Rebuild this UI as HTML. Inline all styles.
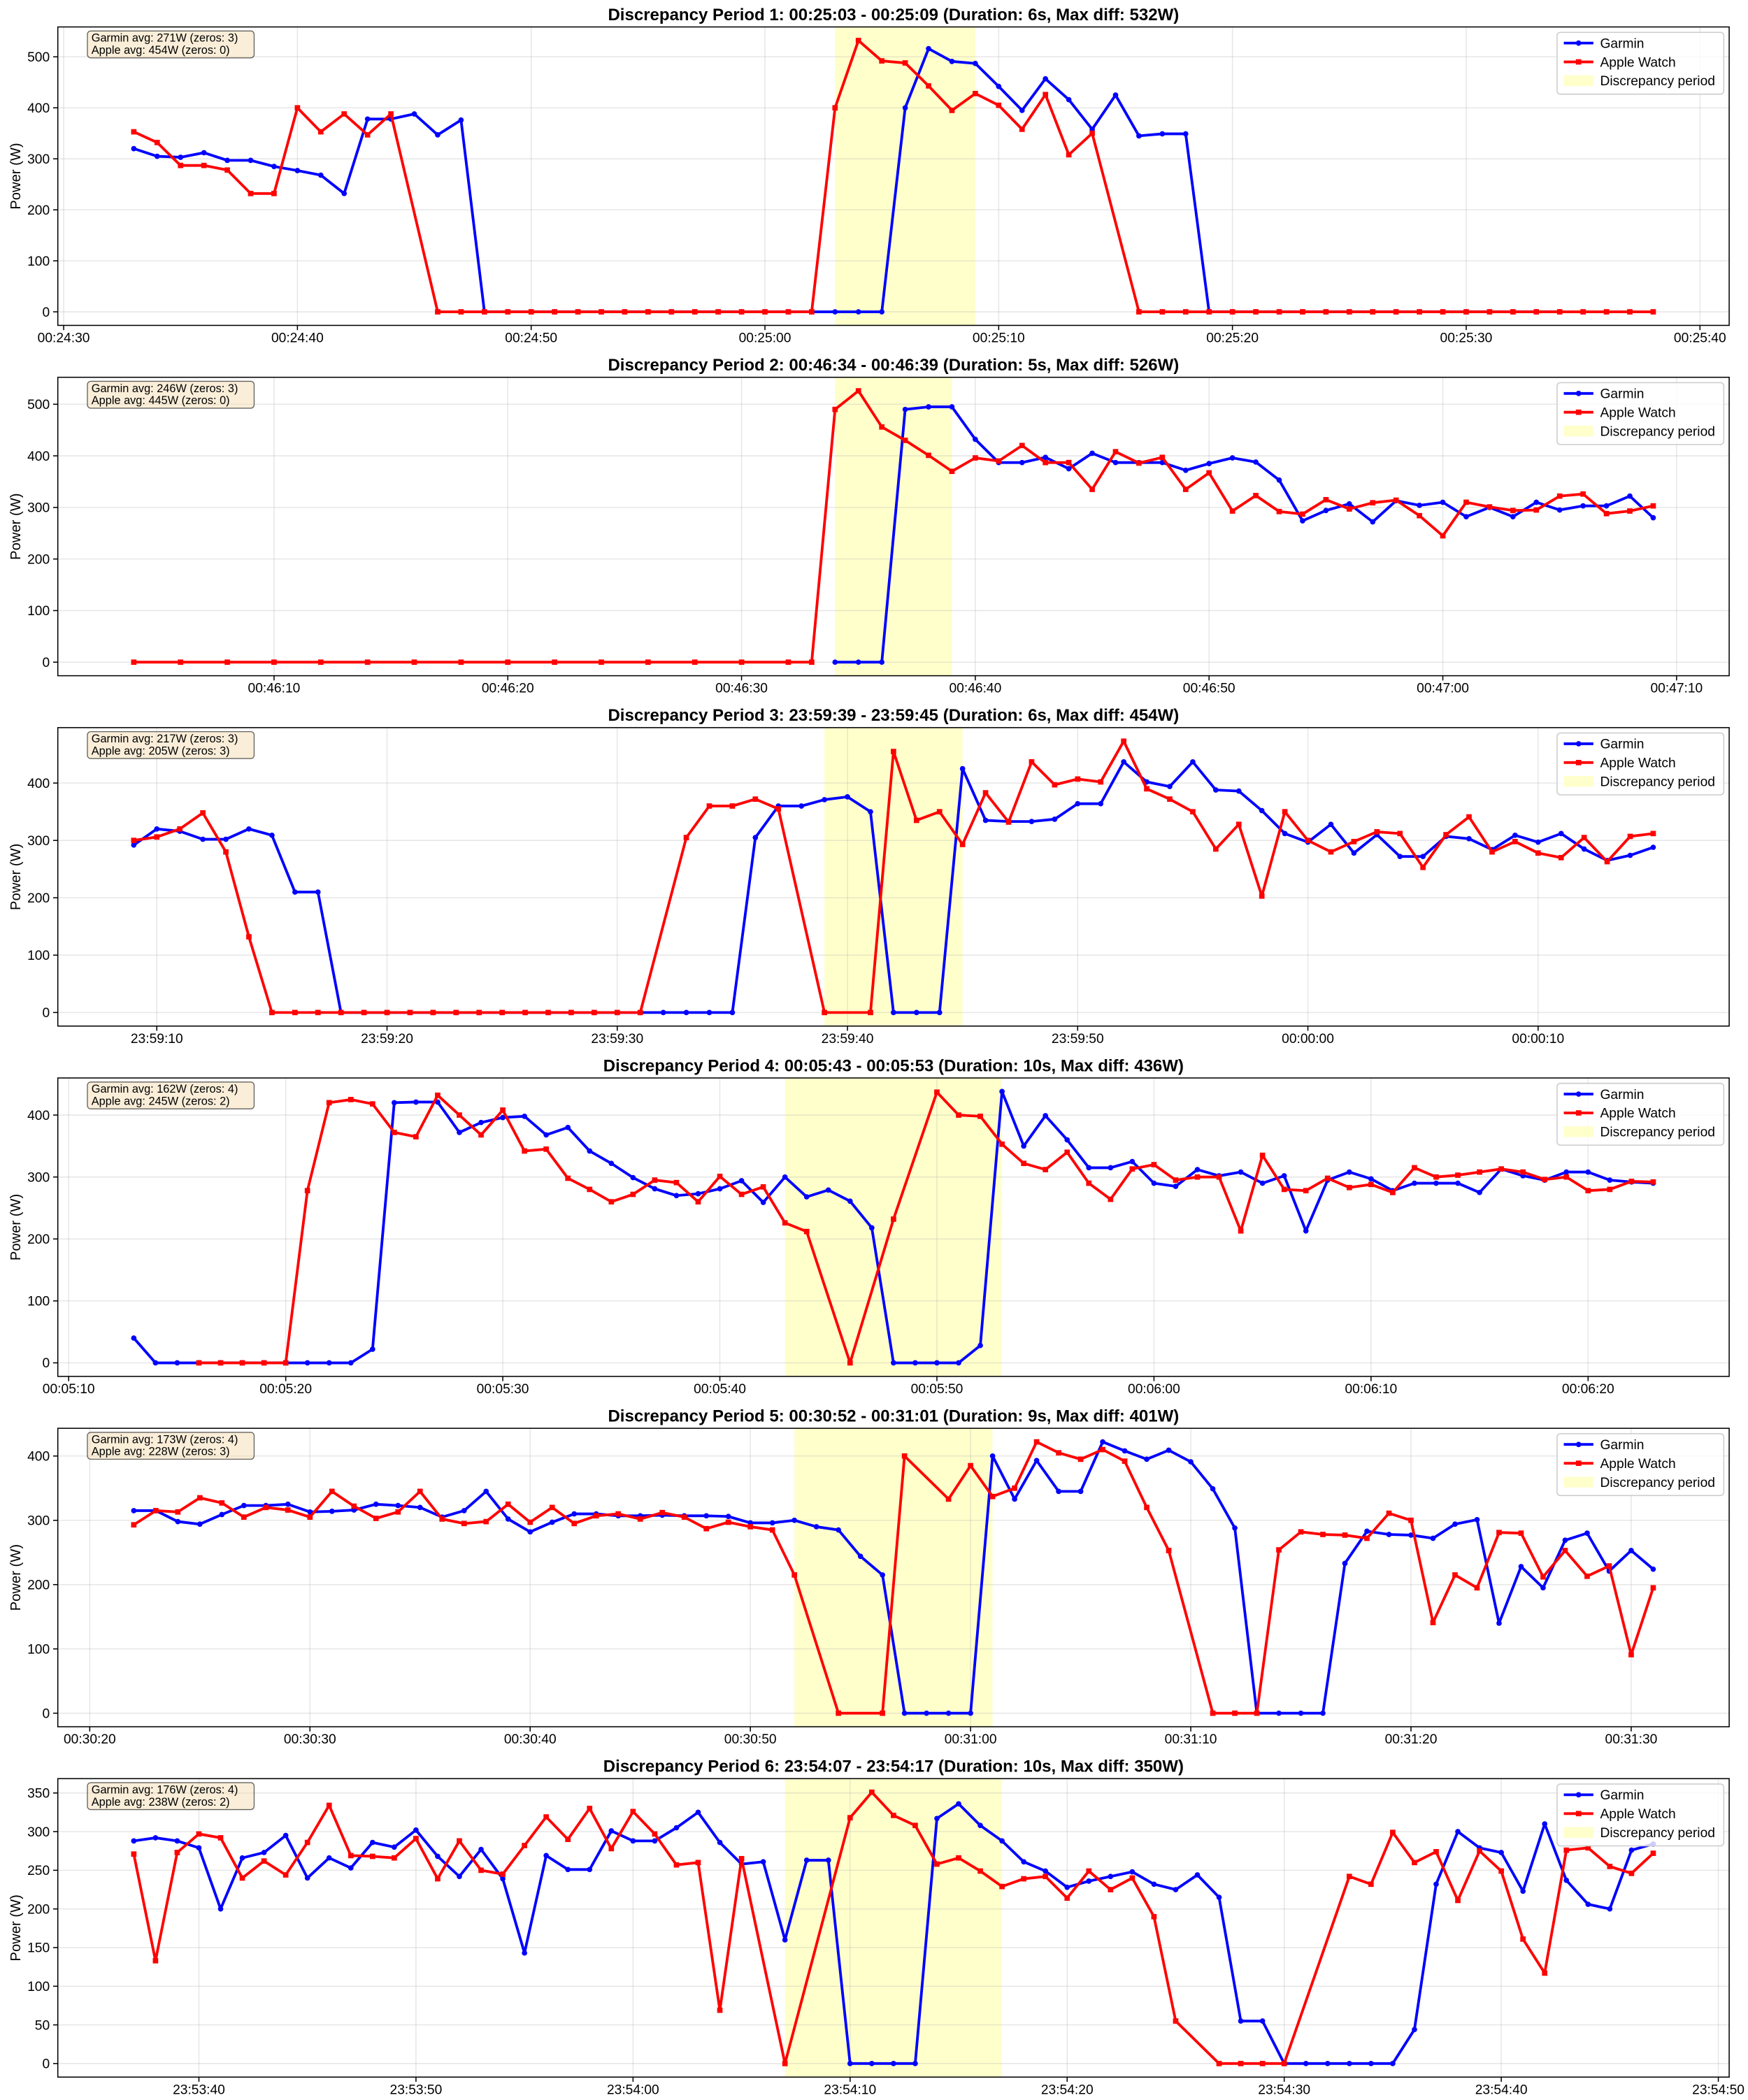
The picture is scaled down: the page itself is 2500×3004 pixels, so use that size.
<!DOCTYPE html>
<html><head><meta charset="utf-8"><style>
html,body{margin:0;padding:0;background:#fff;}
svg{display:block;font-family:"Liberation Sans","DejaVu Sans",sans-serif;}
</style></head><body>
<svg id="chart" xmlns="http://www.w3.org/2000/svg" width="2500" height="3004" viewBox="0 0 1300 1562"></svg>
<script>
const p1Start = 1473;
const p1Garmin = [320,305,303,312,297,297,285,277,268,232,378,378,388,347,376,0,0,0,0,0,0,0,0,0,0,0,0,0,0,0,0,0,0,400,516,491,487,442,395,457,416,358,425,345,349,349,0,0,0,0,0,0,0,0,0,0,0,0,0,0,0,0,null,null,null,null];
const p1Apple = [353,332,287,287,278,232,232,400,353,388,347,388,null,0,0,0,0,0,0,0,0,0,0,0,0,0,0,0,0,0,400,532,492,488,443,395,428,405,358,426,308,350,null,0,0,0,0,0,0,0,0,0,0,0,0,0,0,0,0,0,0,0,0,0,0,0];
const p2Start = 2764;
const p2Garmin = [null,null,null,null,null,null,null,null,null,null,null,null,null,null,null,null,null,null,null,null,null,null,null,null,null,null,null,null,null,null,0,0,0,490,495,495,432,387,387,397,375,405,387,387,387,372,385,396,388,353,274,294,307,272,313,304,310,282,300,282,310,295,303,303,322,280];
const p2Apple = [0,null,0,null,0,null,0,null,0,null,0,null,0,null,0,null,0,null,0,null,0,null,0,null,0,null,0,null,0,0,490,526,456,430,401,370,396,390,420,387,387,335,408,386,397,335,367,293,323,292,287,315,297,309,314,284,245,310,301,294,295,322,326,288,293,303];
const p3Start = 86349;
const p3Garmin = [292,320,316,302,302,320,309,210,210,0,0,0,0,0,0,0,0,0,0,0,0,0,0,0,0,0,0,305,360,360,371,376,350,0,0,0,425,335,333,333,337,364,364,437,402,394,437,388,386,352,312,297,328,278,310,272,272,307,303,284,309,297,312,285,265,274,288];
const p3Apple = [300,306,320,348,280,132,0,0,0,0,0,0,0,0,0,0,0,0,0,0,0,0,0,null,305,360,360,372,355,null,0,null,0,455,335,350,293,383,332,437,397,407,402,473,390,372,350,285,328,203,350,300,280,298,315,312,253,310,341,280,298,278,270,305,263,307,312];
const p4Start = 313;
const p4Garmin = [40,0,0,0,0,0,0,0,0,0,0,22,420,421,421,372,388,396,398,368,380,342,322,299,281,270,273,281,294,259,300,268,279,261,218,0,0,0,0,28,438,350,399,360,315,315,325,290,285,312,302,308,290,302,213,295,308,297,278,290,290,290,275,313,302,295,308,308,295,292,290];
const p4Apple = [null,null,null,0,0,0,0,0,278,420,425,418,372,365,432,400,368,408,342,345,298,280,260,272,295,291,260,301,272,284,226,212,null,0,null,232,null,437,400,398,353,322,312,340,290,264,313,320,295,300,300,213,335,280,278,298,283,288,275,315,300,303,308,313,308,296,300,278,280,293,292];
const p5Start = 1822;
const p5Garmin = [315,315,298,294,309,323,323,325,313,314,316,325,323,320,305,315,345,302,282,297,310,310,307,307,308,307,307,306,296,296,300,290,285,244,215,0,0,0,0,400,333,393,345,345,422,408,395,409,391,349,288,0,0,0,0,233,283,278,277,272,294,301,140,228,195,269,280,221,253,224];
const p5Apple = [293,315,313,335,327,305,320,316,305,345,322,303,313,345,302,295,298,325,297,320,295,307,310,302,312,305,287,297,290,285,215,null,0,null,0,400,null,333,385,337,350,422,405,395,410,392,320,253,null,0,0,0,254,282,278,277,272,311,300,141,215,195,281,280,212,253,213,229,91,195];
const p6Start = 86017;
const p6Garmin = [288,292,288,279,200,266,273,295,240,266,253,286,280,302,268,242,277,239,143,269,251,251,301,288,288,305,325,286,258,261,160,263,263,0,0,0,0,317,336,308,288,261,249,228,236,242,248,232,225,244,215,55,55,0,0,0,0,0,0,44,232,300,279,273,223,310,237,206,200,276,284];
const p6Apple = [271,133,273,297,292,240,262,244,286,334,269,268,266,291,239,288,250,245,282,319,290,330,278,326,297,257,260,69,265,null,0,null,null,318,351,321,308,258,266,249,229,239,242,214,249,225,240,190,55,null,0,0,0,0,null,null,242,232,299,260,274,211,275,249,161,117,276,279,255,246,272];
const spanStarts = [1503, 2794, 86379, 343, 1852, 86047];
const spanEnds = [1509, 2799, 86385, 353, 1861, 86057];
const titles = ["Discrepancy Period 1: 00:25:03 - 00:25:09 (Duration: 6s, Max diff: 532W)","Discrepancy Period 2: 00:46:34 - 00:46:39 (Duration: 5s, Max diff: 526W)","Discrepancy Period 3: 23:59:39 - 23:59:45 (Duration: 6s, Max diff: 454W)","Discrepancy Period 4: 00:05:43 - 00:05:53 (Duration: 10s, Max diff: 436W)","Discrepancy Period 5: 00:30:52 - 00:31:01 (Duration: 9s, Max diff: 401W)","Discrepancy Period 6: 23:54:07 - 23:54:17 (Duration: 10s, Max diff: 350W)"];
const statsGarmin = ["Garmin avg: 271W (zeros: 3)","Garmin avg: 246W (zeros: 3)","Garmin avg: 217W (zeros: 3)","Garmin avg: 162W (zeros: 4)","Garmin avg: 173W (zeros: 4)","Garmin avg: 176W (zeros: 4)"];
const statsApple = ["Apple avg: 454W (zeros: 0)","Apple avg: 445W (zeros: 0)","Apple avg: 205W (zeros: 3)","Apple avg: 245W (zeros: 2)","Apple avg: 228W (zeros: 3)","Apple avg: 238W (zeros: 2)"];

const panels = [
 {start:p1Start,g:p1Garmin,a:p1Apple},
 {start:p2Start,g:p2Garmin,a:p2Apple},
 {start:p3Start,g:p3Garmin,a:p3Apple},
 {start:p4Start,g:p4Garmin,a:p4Apple},
 {start:p5Start,g:p5Garmin,a:p5Apple},
 {start:p6Start,g:p6Garmin,a:p6Apple}
];
const NS="http://www.w3.org/2000/svg";
const svg=document.getElementById('chart');
function mk(tag,attrs,parent){const e=document.createElementNS(NS,tag);for(const k in attrs)e.setAttribute(k,attrs[k]);(parent||svg).appendChild(e);return e;}
function fmt(s){s=((s%86400)+86400)%86400;const h=Math.floor(s/3600),m=Math.floor(s%3600/60),ss=s%60;const p=v=>String(v).padStart(2,'0');return p(h)+':'+p(m)+':'+p(ss);}
const L=43,R=1286,H=222;
panels.forEach((p,i)=>{
  const top=20+260.6*i, bot=top+H;
  const g=mk('g',{});
  
  
  const n=p.g.length;
  const t0=p.start,t1=p.start+n-1,rng=t1-t0;
  const xmin=t0-0.05*rng,xmax=t1+0.05*rng;
  let vmax=0;[...p.g,...p.a].forEach(v=>{if(v!==null&&v>vmax)vmax=v;});
  const ymin=-0.05*vmax,ymax=vmax*1.05;
  const X=t=>L+(t-xmin)/(xmax-xmin)*(R-L);
  const Y=v=>bot-(v-ymin)/(ymax-ymin)*H;
  const sp=mk('rect',{x:X(spanStarts[i]),y:top,width:X(spanEnds[i])-X(spanStarts[i]),height:H,fill:'#ffff99','fill-opacity':0.5},g);
  
  
  const step=vmax<400?50:100;
  for(let v=0;v<=ymax;v+=step){
    const y=Y(v);
    mk('line',{x1:L,x2:R,y1:y,y2:y,stroke:'#b0b0b0','stroke-opacity':0.3,'stroke-width':0.8},g);
    mk('line',{x1:L-3.5,x2:L,y1:y,y2:y,stroke:'#000','stroke-width':0.8},g);
    const tl=mk('text',{x:L-6,y:y+3.5,'font-size':10,'text-anchor':'end',fill:'#000'},g);
    tl.textContent=v;
    
    
  }
  for(let t=Math.ceil(xmin/10)*10;t<=xmax;t+=10){
    const x=X(t);
    mk('line',{x1:x,x2:x,y1:top,y2:bot,stroke:'#b0b0b0','stroke-opacity':0.3,'stroke-width':0.8},g);
    mk('line',{x1:x,x2:x,y1:bot,y2:bot+3.5,stroke:'#000','stroke-width':0.8},g);
    const tl=mk('text',{x:x,y:bot+12.5,'font-size':10,'text-anchor':'middle',fill:'#000'},g);
    tl.textContent=fmt(t);
    
    
  }
  [['g','#0000ff','garmin'],['a','#ff0000','apple-watch']].forEach(([key,col,nm])=>{
    const pts=[];
    p[key].forEach((v,k)=>{if(v!==null)pts.push([X(t0+k),Y(v)]);});
    const pl=mk('polyline',{points:pts.map(q=>q[0].toFixed(2)+','+q[1].toFixed(2)).join(' '),fill:'none',stroke:col,'stroke-width':2,'stroke-linejoin':'round'},g);
    
    
    pts.forEach(q=>{
      let m;
      if(key==='g'){m=mk('circle',{cx:q[0],cy:q[1],r:2,fill:col},g);}
      else{m=mk('rect',{x:q[0]-2,y:q[1]-2,width:4,height:4,fill:col},g);}
      
      
    });
  });
  mk('rect',{x:L,y:top,width:R-L,height:H,fill:'none',stroke:'#000','stroke-width':0.8},g);
  const ti=mk('text',{x:(L+R)/2,y:top-5,'font-size':12.5,'font-weight':'bold','text-anchor':'middle',fill:'#000'},g);
  ti.textContent=titles[i];
  
  
  const yl=mk('text',{x:0,y:0,'font-size':10.5,'text-anchor':'middle',fill:'#000',transform:`translate(15,${top+H/2}) rotate(-90)`},g);
  yl.textContent='Power (W)';
  
  
  const sb=mk('rect',{x:65,y:top+3,width:124,height:20,rx:2.5,fill:'#f5deb3','fill-opacity':0.5,stroke:'#000','stroke-opacity':0.6,'stroke-width':0.7},g);
  
  
  const s1=mk('text',{x:68,y:top+11,'font-size':8.5,fill:'#000'},g);s1.textContent=statsGarmin[i];
  
  
  const s2=mk('text',{x:68,y:top+20,'font-size':8.5,fill:'#000'},g);s2.textContent=statsApple[i];
  
  
  const lb=mk('rect',{x:1158,y:top+4,width:124,height:46,rx:2.5,fill:'#fff','fill-opacity':0.8,stroke:'#ccc','stroke-width':0.8},g);
  
  
  const items=[['Garmin','#0000ff','c'],['Apple Watch','#ff0000','s'],['Discrepancy period','#ffff99','r']];
  items.forEach((it,k)=>{
    const ly=top+12+k*14;
    if(it[2]==='r'){mk('rect',{x:1163,y:ly-4,width:22,height:8,fill:it[1],'fill-opacity':0.5},g);}
    else{
      mk('line',{x1:1163,x2:1185,y1:ly,y2:ly,stroke:it[1],'stroke-width':2},g);
      if(it[2]==='c')mk('circle',{cx:1174,cy:ly,r:2,fill:it[1]},g);
      else mk('rect',{x:1172,y:ly-2,width:4,height:4,fill:it[1]},g);
    }
    const lt=mk('text',{x:1190,y:ly+3.5,'font-size':10,fill:'#000'},g);
    lt.textContent=it[0];
    
    
  });
});
</script>
</body></html>
